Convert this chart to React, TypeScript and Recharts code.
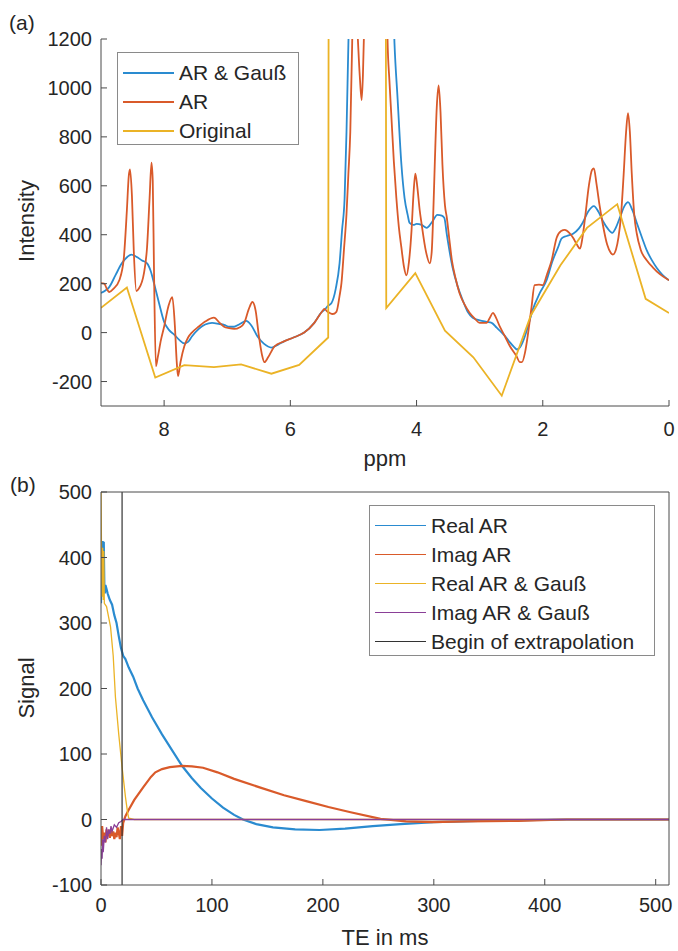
import React from 'react';
import { LineChart, Line, XAxis, YAxis, ReferenceLine } from 'recharts';

// ---------- Panel (a): spectra (ppm, intensity) ----------
const ppmTicks = [0, 2, 4, 6, 8];
const intensityTicks = [-200, 0, 200, 400, 600, 800, 1000, 1200];

const arGaussSpectrum: [number, number][] = [
  [9.0, 162], [8.93, 172], [8.87, 186], [8.77, 235], [8.67, 283], [8.58, 310], [8.52, 319],
  [8.44, 310], [8.35, 295], [8.27, 283], [8.21, 250], [8.16, 202], [8.08, 120], [8.0, 44],
  [7.92, 10], [7.84, -8], [7.76, -30], [7.68, -44], [7.62, -38], [7.56, -16], [7.45, 15],
  [7.35, 33], [7.24, 40], [7.12, 35], [7.05, 32], [6.97, 24], [6.89, 24], [6.8, 35],
  [6.7, 48], [6.62, 30], [6.52, -16], [6.42, -45], [6.3, -61], [6.2, -50], [6.1, -36],
  [5.95, -20], [5.78, 0], [5.62, 40], [5.5, 85], [5.46, 93], [5.4, 110], [5.35, 120],
  [5.28, 180], [5.22, 283], [5.18, 420], [5.14, 550], [5.11, 820], [5.08, 1184], [5.05, 1500],
  [5.0, 2500], [4.9, 4000], [4.7, 5000], [4.5, 3000], [4.4, 1600], [4.35, 1184], [4.3, 954],
  [4.24, 687], [4.19, 550], [4.14, 480], [4.11, 448], [4.05, 440], [4.0, 444], [3.92, 440],
  [3.84, 428], [3.76, 450], [3.67, 481], [3.6, 478], [3.56, 469], [3.52, 400], [3.43, 267],
  [3.35, 190], [3.27, 133], [3.19, 85], [3.11, 61], [3.0, 50], [2.89, 44], [2.81, 40],
  [2.73, 20], [2.65, 0], [2.58, -20], [2.52, -40], [2.45, -60], [2.41, -69], [2.36, -60],
  [2.32, -40], [2.24, 20], [2.16, 93], [2.05, 160], [1.94, 214], [1.85, 290], [1.76, 347],
  [1.7, 385], [1.62, 395], [1.52, 404], [1.43, 425], [1.37, 448], [1.28, 495], [1.19, 517],
  [1.12, 495], [1.05, 457], [0.97, 425], [0.9, 408], [0.84, 430], [0.78, 469], [0.7, 520],
  [0.65, 533], [0.58, 500], [0.51, 448], [0.43, 390], [0.35, 335], [0.27, 295], [0.19, 263],
  [0.1, 235], [0.0, 214],
];

const arSpectrum: [number, number][] = [
  [9.0, 202], [8.95, 200], [8.9, 175], [8.87, 166], [8.8, 180], [8.71, 214], [8.64, 300],
  [8.59, 500], [8.56, 640], [8.54, 667], [8.51, 560], [8.48, 330], [8.44, 170], [8.4, 180],
  [8.32, 242], [8.27, 350], [8.23, 550], [8.2, 695], [8.18, 620], [8.16, 250], [8.13, -137],
  [8.1, -100], [8.05, -30], [8.0, 24], [7.93, 110], [7.87, 145], [7.83, 30], [7.8, -120],
  [7.78, -178], [7.74, -120], [7.68, -56], [7.62, -20], [7.56, 0], [7.45, 25], [7.35, 45],
  [7.21, 61], [7.12, 40], [7.05, 24], [6.97, 18], [6.89, 15], [6.8, 22], [6.73, 40],
  [6.66, 95], [6.6, 125], [6.55, 90], [6.5, -10], [6.45, -90], [6.41, -121], [6.35, -100],
  [6.25, -56], [6.1, -36], [5.95, -20], [5.78, 0], [5.62, 40], [5.5, 85], [5.46, 97],
  [5.41, 85], [5.38, 81], [5.33, 76], [5.27, 85], [5.22, 150], [5.19, 202], [5.15, 340],
  [5.11, 485], [5.08, 650], [5.05, 820], [5.02, 1184], [5.0, 1500], [4.94, 1250], [4.9, 1050],
  [4.87, 950], [4.85, 1050], [4.83, 1250], [4.78, 2000], [4.6, 3000], [4.5, 2000], [4.46, 1200],
  [4.43, 1030], [4.4, 889], [4.36, 700], [4.32, 550], [4.28, 430], [4.24, 347], [4.2, 270],
  [4.16, 234], [4.12, 290], [4.08, 416], [4.05, 560], [4.02, 650], [3.99, 600], [3.95, 500],
  [3.92, 444], [3.85, 330], [3.79, 283], [3.76, 330], [3.74, 450], [3.71, 700], [3.68, 920],
  [3.65, 1010], [3.62, 900], [3.59, 687], [3.55, 520], [3.52, 469], [3.48, 380], [3.44, 295],
  [3.38, 220], [3.32, 162], [3.24, 115], [3.16, 81], [3.08, 58], [3.0, 40], [2.89, 40],
  [2.84, 60], [2.79, 81], [2.74, 60], [2.68, 24], [2.6, -15], [2.52, -56], [2.42, -95],
  [2.36, -121], [2.33, -121], [2.28, -80], [2.24, -16], [2.18, 100], [2.13, 194], [2.06, 196],
  [2.0, 194], [1.93, 240], [1.86, 295], [1.78, 388], [1.71, 415], [1.65, 420], [1.58, 408],
  [1.52, 388], [1.46, 360], [1.41, 343], [1.37, 390], [1.33, 469], [1.27, 600], [1.22, 665],
  [1.19, 671], [1.15, 610], [1.1, 520], [1.05, 444], [0.98, 360], [0.92, 325], [0.89, 319],
  [0.84, 340], [0.8, 390], [0.76, 480], [0.72, 640], [0.68, 820], [0.65, 897], [0.62, 820],
  [0.59, 650], [0.55, 480], [0.51, 404], [0.45, 340], [0.35, 295], [0.25, 265], [0.15, 240],
  [0.0, 214],
];

const originalSpectrum: [number, number][] = [
  [9.0, 101], [8.59, 184], [8.14, -184], [7.68, -133], [7.21, -141], [6.78, -130], [6.3, -168],
  [5.86, -132], [5.4, -20], [5.385, 3000], [4.495, 3000], [4.48, 100], [4.02, 243], [3.55, 8],
  [3.1, -101], [2.65, -258], [2.19, 70], [1.72, 275], [1.3, 428], [0.82, 525], [0.37, 138],
  [0.0, 80],
];

// ---------- Panel (b): time-domain signals (TE in ms, signal) ----------
const teTicks = [0, 100, 200, 300, 400, 500];
const signalTicks = [-100, 0, 100, 200, 300, 400, 500];
const extrapolationStart = 19;

const realAR: [number, number][] = [
  [0, 330], [0.5, 420], [1, 380], [1.5, 425], [2, 400], [2.5, 424], [3, 360], [3.5, 345],
  [4, 358], [5, 352], [6, 345], [7, 340], [8, 335], [10, 328], [12, 312], [14, 300],
  [16, 280], [18, 262], [20, 250], [22, 245], [25, 232], [29, 218], [33, 200], [38, 182],
  [46, 156], [55, 130], [64, 106], [73, 82], [82, 63], [90, 48], [100, 32], [110, 18],
  [120, 7], [128, 0], [140, -7], [155, -12], [175, -15], [197, -16], [220, -14], [245, -10],
  [270, -7], [300, -4], [340, -2], [380, -1], [420, 0], [512, 0],
];

const imagAR: [number, number][] = [
  [0, -40], [1, -10], [2, -30], [3, -20], [4, -35], [5, -15], [6, -25], [7, -20], [8, -28],
  [9, -15], [10, -25], [11, -18], [12, -30], [13, -20], [14, -27], [15, -12], [16, -20],
  [17, -30], [18, -10], [19, -25], [20, -5], [22, 5], [25, 15], [30, 30], [38, 49], [45, 65],
  [49, 72], [55, 77], [62, 80], [73, 82], [82, 81], [92, 79], [105, 72], [120, 62], [143, 49],
  [165, 37], [185, 28], [205, 19], [225, 11], [252, 1], [275, -3], [298, -4], [330, -3],
  [376, -2], [420, 0], [512, 0],
];

const realARGauss: [number, number][] = [
  [0, 510], [0.5, 400], [1, 340], [1.5, 415], [2, 335], [2.5, 410], [3, 330], [5, 325],
  [8.6, 294], [11, 250], [13, 187], [16, 130], [19, 80], [22, 35], [24, 10], [25, 2],
  [30, 0], [512, 0],
];

const imagARGauss: [number, number][] = [
  [0, -70], [0.5, -45], [1, -60], [1.5, -30], [2, -50], [3, -25], [4, -35], [5, -12],
  [6, -30], [7, -15], [8, -22], [9, -10], [10, -18], [12, -8], [14, -12], [16, -5],
  [18, -3], [20, 0], [512, 0],
];

const BLUE = '#2a8bd0';
const ORANGE = '#d95a2a';
const YELLOW = '#ebb326';
const PURPLE = '#8a3f97';
const AXIS = '#4a4a4a';
const TEXT = '#262626';
const FONT = '"Liberation Sans", Arial, Helvetica, sans-serif';

const toPts = (arr: [number, number][]) => arr.map(([x, y]) => ({ x, y }));

const tickStyle = { fill: TEXT, fontSize: 20, fontFamily: FONT };

type LegendItem = { label: string; color: string };

function LegendBox({ left, top, width, items, lineW }: { left: number; top: number; width: number; items: LegendItem[]; lineW: number }) {
  const rowH = 29;
  return (
    <div
      style={{
        position: 'absolute',
        left,
        top,
        width,
        height: 6 + rowH * items.length,
        border: '1px solid #8a8a8a',
        background: '#fff',
        boxSizing: 'border-box',
        fontFamily: FONT,
        fontSize: 21,
        color: TEXT,
      }}
    >
      {items.map((it, i) => (
        <div key={it.label} style={{ position: 'absolute', left: 0, top: 5 + i * rowH, height: rowH, width: '100%' }}>
          <div
            style={{
              position: 'absolute',
              left: 5,
              top: rowH / 2 - 1,
              width: 51,
              height: lineW,
              background: it.color,
            }}
          />
          <span style={{ position: 'absolute', left: 61, top: 0, lineHeight: `${rowH}px`, whiteSpace: 'nowrap' }}>{it.label}</span>
        </div>
      ))}
    </div>
  );
}

export default function App() {
  const arGaussData = toPts(arGaussSpectrum);
  const arData = toPts(arSpectrum);
  const origData = toPts(originalSpectrum);

  return (
    <div style={{ position: 'absolute', left: 0, top: 0, width: 678, height: 951, background: '#fff', overflow: 'hidden' }}>
      {/* Panel (a) */}
      <div style={{ position: 'absolute', left: 0, top: 0 }}>
        <LineChart width={678} height={470} margin={{ top: 39, right: 9, bottom: 34, left: 41 }}>
          <XAxis
            dataKey="x"
            type="number"
            domain={[0, 9]}
            reversed
            ticks={ppmTicks}
            allowDataOverflow
            height={30}
            tickSize={-6}
            tickMargin={22}
            tick={tickStyle}
            axisLine={{ stroke: AXIS }}
            tickLine={{ stroke: AXIS }}
          />
          <YAxis
            type="number"
            domain={[-300, 1200]}
            ticks={intensityTicks}
            allowDataOverflow
            width={60}
            tickSize={-6}
            tickMargin={15}
            tick={tickStyle}
            axisLine={{ stroke: AXIS }}
            tickLine={{ stroke: AXIS }}
          />
          <Line data={arGaussData} dataKey="y" type="monotone" stroke={BLUE} strokeWidth={1.8} dot={false} activeDot={false} isAnimationActive={false} />
          <Line data={arData} dataKey="y" type="monotone" stroke={ORANGE} strokeWidth={1.8} dot={false} activeDot={false} isAnimationActive={false} />
          <Line data={origData} dataKey="y" type="linear" stroke={YELLOW} strokeWidth={1.8} dot={false} activeDot={false} isAnimationActive={false} />
        </LineChart>
      </div>

      {/* Panel (b) */}
      <div style={{ position: 'absolute', left: 0, top: 470 }}>
        <LineChart width={678} height={481} margin={{ top: 21, right: 8, bottom: 36, left: 41 }}>
          <XAxis
            dataKey="x"
            type="number"
            domain={[0, 512]}
            ticks={teTicks}
            allowDataOverflow
            height={30}
            tickSize={-6}
            tickMargin={19}
            tick={tickStyle}
            axisLine={{ stroke: AXIS }}
            tickLine={{ stroke: AXIS }}
          />
          <XAxis
            xAxisId="top"
            orientation="top"
            dataKey="x"
            type="number"
            domain={[0, 512]}
            ticks={teTicks}
            allowDataOverflow
            height={1}
            tickSize={-6}
            tick={false}
            axisLine={{ stroke: AXIS }}
            tickLine={{ stroke: AXIS }}
          />
          <YAxis
            type="number"
            domain={[-100, 500]}
            ticks={signalTicks}
            allowDataOverflow
            width={60}
            tickSize={-6}
            tickMargin={15}
            tick={tickStyle}
            axisLine={{ stroke: AXIS }}
            tickLine={{ stroke: AXIS }}
          />
          <YAxis
            yAxisId="right"
            orientation="right"
            type="number"
            domain={[-100, 500]}
            ticks={signalTicks}
            allowDataOverflow
            width={1}
            tickSize={-6}
            tick={false}
            axisLine={{ stroke: AXIS }}
            tickLine={{ stroke: AXIS }}
          />
          <Line data={toPts(realAR)} dataKey="y" type="linear" stroke={BLUE} strokeWidth={2.2} dot={false} activeDot={false} isAnimationActive={false} />
          <Line data={toPts(imagAR)} dataKey="y" type="linear" stroke={ORANGE} strokeWidth={2.2} dot={false} activeDot={false} isAnimationActive={false} />
          <Line data={toPts(realARGauss)} dataKey="y" type="linear" stroke={YELLOW} strokeWidth={1.3} dot={false} activeDot={false} isAnimationActive={false} />
          <Line data={toPts(imagARGauss)} dataKey="y" type="linear" stroke={PURPLE} strokeWidth={1.3} dot={false} activeDot={false} isAnimationActive={false} />
          <ReferenceLine x={extrapolationStart} stroke="#333" strokeWidth={1.2} ifOverflow="hidden" />
        </LineChart>
      </div>

      {/* Texts */}
      <svg width={678} height={951} style={{ position: 'absolute', left: 0, top: 0, pointerEvents: 'none' }}>
        <g fontFamily={FONT} fill={TEXT}>
          <text x={9} y={30} fontSize={21}>(a)</text>
          <text x={10} y={492} fontSize={21}>(b)</text>
          <text x={385} y={466} fontSize={22} textAnchor="middle">ppm</text>
          <text x={385} y={945} fontSize={22} textAnchor="middle">TE in ms</text>
          <text x={34} y={221} fontSize={22} textAnchor="middle" transform="rotate(-90 34 221)">Intensity</text>
          <text x={34} y={688} fontSize={22} textAnchor="middle" transform="rotate(-90 34 688)">Signal</text>
        </g>
      </svg>

      <LegendBox
        left={117}
        top={52}
        width={182}
        lineW={2}
        items={[
          { label: 'AR & Gauß', color: BLUE },
          { label: 'AR', color: ORANGE },
          { label: 'Original', color: YELLOW },
        ]}
      />
      <LegendBox
        left={369}
        top={505}
        width={286}
        lineW={1.5}
        items={[
          { label: 'Real AR', color: BLUE },
          { label: 'Imag AR', color: ORANGE },
          { label: 'Real AR & Gauß', color: YELLOW },
          { label: 'Imag AR & Gauß', color: PURPLE },
          { label: 'Begin of extrapolation', color: '#333' },
        ]}
      />
    </div>
  );
}
